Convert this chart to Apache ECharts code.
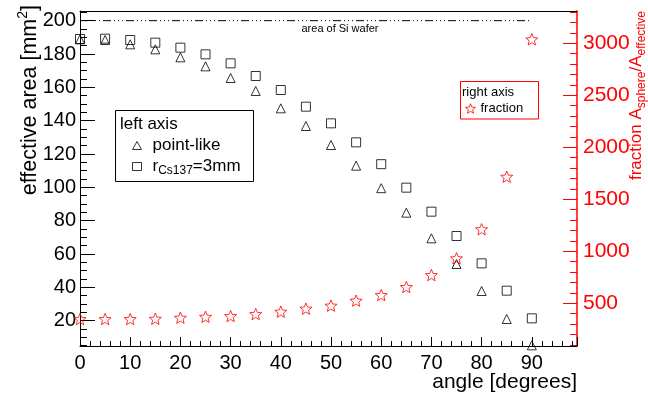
<!DOCTYPE html>
<html>
<head>
<meta charset="utf-8">
<script src="https://cdn.jsdelivr.net/npm/echarts@6/dist/echarts.min.js"></script>
<style>
html, body { margin: 0; padding: 0; background: #fff; }
#chart { width: 648px; height: 395px; }
</style>
</head>
<body>
<div id="chart"></div>
<script>
// angle in degrees
var angles = [0, 5, 10, 15, 20, 25, 30, 35, 40, 45, 50, 55, 60, 65, 70, 75, 80, 85, 90];
// effective area [mm2], left axis
var pointLike = [188.8, 188.4, 185.8, 182.8, 178, 172.6, 165.6, 157.8, 147.4, 136.8, 125.4, 113, 99.5, 84.8, 69.4, 54, 37.8, 21, 5.2];
var rCs137 = [189, 189.2, 188.4, 186.8, 183.8, 179.8, 174.4, 166.8, 158.4, 148.4, 138.4, 127, 113.9, 99.8, 85.4, 70.8, 54.4, 38, 21.4];
// A_sphere / A_effective, right axis
var fraction = [349, 349, 349, 352, 362, 371, 378, 397, 420, 449, 478, 526, 580, 657, 772, 933, 1212, 1717, 3038];

var waferArea = 200;
var waferSpan = [0, 90];

var leftTicks = [20, 40, 60, 80, 100, 120, 140, 160, 180, 200];
var leftMinor = [5, 10, 15, 20, 25, 30, 35, 40, 45, 50, 55, 60, 65, 70, 75, 80, 85, 90, 95, 100, 105, 110, 115, 120, 125, 130, 135, 140, 145, 150, 155, 160, 165, 170, 175, 180, 185, 190, 195, 200, 205];
var rightTicks = [500, 1000, 1500, 2000, 2500, 3000];
var rightMinor = [100, 200, 300, 400, 500, 600, 700, 800, 900, 1000, 1100, 1200, 1300, 1400, 1500, 1600, 1700, 1800, 1900, 2000, 2100, 2200, 2300, 2400, 2500, 2600, 2700, 2800, 2900, 3000, 3100, 3200, 3300];

var FONT = 'Liberation Sans';
var RED = '#ff0000';
var STAR = 'path://M50 0 L62.9 32.2 L97.6 34.5 L70.9 56.8 L79.4 90.5 L50 72 L20.6 90.5 L29.1 56.8 L2.4 34.5 L37.1 32.2 Z';
var OPEN_BLACK = { color: 'rgba(0,0,0,0)', borderColor: '#000', borderWidth: 1 };
var OPEN_RED = { color: 'rgba(0,0,0,0)', borderColor: RED, borderWidth: 1 };

var pair = function (ys) {
	return angles.map(function (a, i) { return [a, ys[i]]; });
};

var myChart = echarts.init(document.getElementById('chart'), null, { renderer: 'canvas' });

var option = {
	animation: false,
	backgroundColor: '#fff',
	grid: { left: 80, right: 71, top: 11, bottom: 49 },
	xAxis: [{
		type: 'value', position: 'bottom', min: 0, max: 99, interval: 10,
		axisLine: { lineStyle: { color: '#000', width: 1 } },
		axisTick: { inside: true, length: 9, lineStyle: { color: '#000' } },
		minorTick: { show: true, splitNumber: 5, length: 5, lineStyle: { color: '#000' } },
		axisLabel: { fontFamily: FONT, fontSize: 20, color: '#000', margin: 7, showMaxLabel: false },
		splitLine: { show: false }
	}, {
		type: 'value', position: 'top', min: 0, max: 99,
		axisLine: { lineStyle: { color: '#000', width: 1 } },
		axisTick: { show: false }, axisLabel: { show: false }, splitLine: { show: false }
	}],
	yAxis: [{
		type: 'value', position: 'left', min: 4.8, max: 205.8,
		axisLine: { show: true, lineStyle: { color: '#000', width: 1 } },
		axisTick: { inside: true, length: 15, customValues: leftTicks, lineStyle: { color: '#000' } },
		axisLabel: { customValues: leftTicks, fontFamily: FONT, fontSize: 20, color: '#000', margin: 4 },
		splitLine: { show: false }
	}, {
		type: 'value', position: 'left', min: 4.8, max: 205.8,
		axisLine: { show: false },
		axisTick: { inside: true, length: 7, customValues: leftMinor, lineStyle: { color: '#000' } },
		axisLabel: { show: false }, splitLine: { show: false }
	}, {
		type: 'value', position: 'right', min: 90, max: 3310,
		axisLine: { show: true, lineStyle: { color: RED, width: 1.5 } },
		axisTick: { inside: true, length: 14, customValues: rightTicks, lineStyle: { color: RED } },
		axisLabel: {
			customValues: rightTicks, fontFamily: FONT, fontSize: 21, color: RED, margin: 6,
			formatter: function (v) { return String(v); }
		},
		splitLine: { show: false }
	}, {
		type: 'value', position: 'right', min: 90, max: 3310,
		axisLine: { show: false },
		axisTick: { inside: true, length: 7, customValues: rightMinor, lineStyle: { color: RED } },
		axisLabel: { show: false }, splitLine: { show: false }
	}],
	legend: [{
		left: 132, top: 137, itemWidth: 9, itemHeight: 8, padding: 0,
		selectedMode: false, data: ['point-like'], itemStyle: OPEN_BLACK,
		textStyle: { fontFamily: FONT, fontSize: 17, color: '#000', padding: [0, 0, 0, 6] }
	}, {
		left: 132, top: 158, itemWidth: 9, itemHeight: 8, padding: 0,
		selectedMode: false, data: ['rCs137'], itemStyle: OPEN_BLACK,
		formatter: function () { return '{n|r}{sub|Cs137}{n|=3mm}'; },
		textStyle: {
			fontFamily: FONT, fontSize: 17, color: '#000', padding: [0, 0, 0, 6],
			rich: {
				n: { fontFamily: FONT, fontSize: 17, color: '#000' },
				sub: { fontFamily: FONT, fontSize: 12, color: '#000', padding: [9, 0, 0, 0] }
			}
		}
	}, {
		left: 465, top: 102, itemWidth: 10, itemHeight: 10, padding: 0,
		selectedMode: false, data: ['fraction'], itemStyle: OPEN_RED,
		textStyle: { fontFamily: FONT, fontSize: 13, color: '#000' }
	}],
	series: [{
		name: 'wafer', type: 'line', xAxisIndex: 0, yAxisIndex: 0, silent: true,
		symbol: 'none',
		data: waferSpan.map(function (a) { return [a, waferArea]; }),
		lineStyle: { color: '#000', width: 1, type: [8, 3, 1, 3, 1, 3, 1, 3] }
	}, {
		name: 'point-like', type: 'scatter', xAxisIndex: 0, yAxisIndex: 0,
		symbol: 'triangle', symbolSize: 9, itemStyle: OPEN_BLACK,
		data: pair(pointLike)
	}, {
		name: 'rCs137', type: 'scatter', xAxisIndex: 0, yAxisIndex: 0,
		symbol: 'rect', symbolSize: 9, itemStyle: OPEN_BLACK,
		data: pair(rCs137)
	}, {
		name: 'fraction', type: 'scatter', xAxisIndex: 0, yAxisIndex: 2,
		symbol: STAR, symbolSize: 12, symbolKeepAspect: true, itemStyle: OPEN_RED,
		data: pair(fraction)
	}],
	graphic: [{
		type: 'text', x: 30, y: 5, rotation: Math.PI / 2,
		style: {
			text: 'effective area [mm{sup|2}]',
			fontFamily: FONT, fontSize: 21.5, fill: '#000', align: 'right', verticalAlign: 'middle',
			rich: { sup: { fontFamily: FONT, fontSize: 14, fill: '#000', padding: [0, 0, 13, 0] } }
		}
	}, {
		type: 'text', x: 577, y: 382,
		style: { text: 'angle [degrees]', fontFamily: FONT, fontSize: 21, fill: '#000', align: 'right', verticalAlign: 'middle' }
	}, {
		type: 'text', x: 636, y: 11, rotation: Math.PI / 2,
		style: {
			text: 'fraction A{sub|sphere}/A{sub|effective}',
			fontFamily: FONT, fontSize: 17, fill: RED, align: 'right', verticalAlign: 'middle',
			rich: { sub: { fontFamily: FONT, fontSize: 12, fill: RED, padding: [11, 0, 0, 0] } }
		}
	}, {
		type: 'text', x: 340, y: 29,
		style: { text: 'area of Si wafer', fontFamily: FONT, fontSize: 11, fill: '#000', align: 'center', verticalAlign: 'middle' }
	}, {
		type: 'rect', shape: { x: 115.5, y: 110.5, width: 138, height: 71 },
		style: { fill: 'none', stroke: '#000', lineWidth: 1 }
	}, {
		type: 'text', x: 120, y: 124,
		style: { text: 'left axis', fontFamily: FONT, fontSize: 17, fill: '#000', align: 'left', verticalAlign: 'middle' }
	}, {
		type: 'rect', shape: { x: 460.5, y: 81.5, width: 78, height: 37.5 },
		style: { fill: 'none', stroke: RED, lineWidth: 1 }
	}, {
		type: 'text', x: 462, y: 92,
		style: { text: 'right axis', fontFamily: FONT, fontSize: 13, fill: '#000', align: 'left', verticalAlign: 'middle' }
	}]
};

myChart.setOption(option);
</script>
</body>
</html>
